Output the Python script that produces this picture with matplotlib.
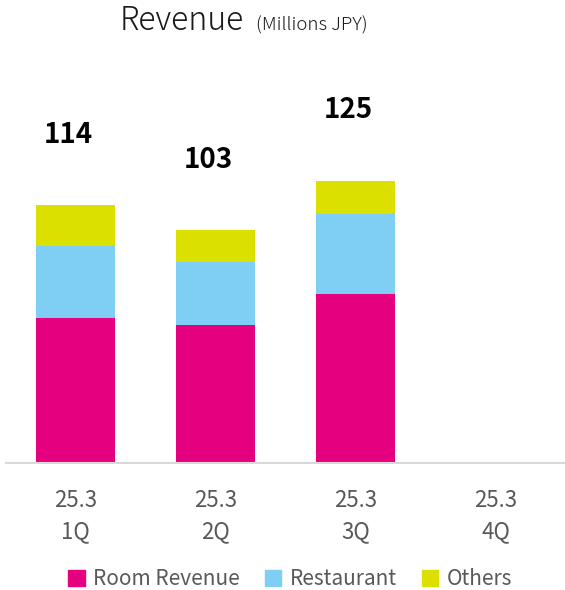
import numpy as np
import matplotlib
matplotlib.use("Agg")
import matplotlib.pyplot as plt
from matplotlib.patches import Patch

plt.rcParams['font.family'] = ['Noto Sans CJK JP', 'DejaVu Sans']

quarters = ["25.3\n1Q", "25.3\n2Q", "25.3\n3Q", "25.3\n4Q"]
room = [64, 61, 75]
restaurant = [32, 28, 35]
others = [18, 14, 15]
totals = [114, 103, 125]

cRoom = '#E4007F'
cRest = '#7FCEF4'
cOth = '#DCE000'

fig = plt.figure(figsize=(5.65, 5.9), dpi=100)
ax = fig.add_axes([5.5/565, 127/590, 560/565, 403/590])

x = np.arange(len(room))
w = 0.56
room = np.array(room)
restaurant = np.array(restaurant)
others = np.array(others)
ax.bar(x, room, w, color=cRoom)
ax.bar(x, restaurant, w, bottom=room, color=cRest)
ax.bar(x, others, w, bottom=room+restaurant, color=cOth)

# totals sit well above each stack
for i, t in enumerate(totals):
	ax.text(x[i]-0.05, t+31, str(t), ha='center', va='center', fontsize=20, fontweight='bold', color='black')

ax.set_xlim(-0.5, len(quarters)-0.5)
ax.set_ylim(0, 403/2.26)
ax.set_xticks(np.arange(len(quarters)))
ax.set_xticklabels(quarters, fontsize=16, color='#595959', linespacing=1.45)
ax.tick_params(axis='x', length=0, pad=19)
ax.set_yticks([])
for s in ['top', 'right', 'left']:
	ax.spines[s].set_visible(False)
ax.spines['bottom'].set_color('#D9D9D9')
ax.spines['bottom'].set_linewidth(1.5)

fig.text(120/565, 1-30/590, "Revenue", fontsize=23, fontweight='light', color='#1a1a1a', va='baseline', ha='left')
fig.text(256/565, 1-30/590, "(Millions JPY)", fontsize=13.5, fontweight='light', color='#1a1a1a', va='baseline', ha='left')

handles = [Patch(color=cRoom, label='Room Revenue'),
	Patch(color=cRest, label='Restaurant'),
	Patch(color=cOth, label='Others')]
leg = fig.legend(handles=handles, loc='center', bbox_to_anchor=(290/565, 1-579/590), ncol=3,
	frameon=False, fontsize=15, handlelength=0.8, handleheight=0.8, handletextpad=0.4, columnspacing=1.2)
for t in leg.get_texts():
	t.set_color('#595959')

fig.savefig('out.png', dpi=100)
